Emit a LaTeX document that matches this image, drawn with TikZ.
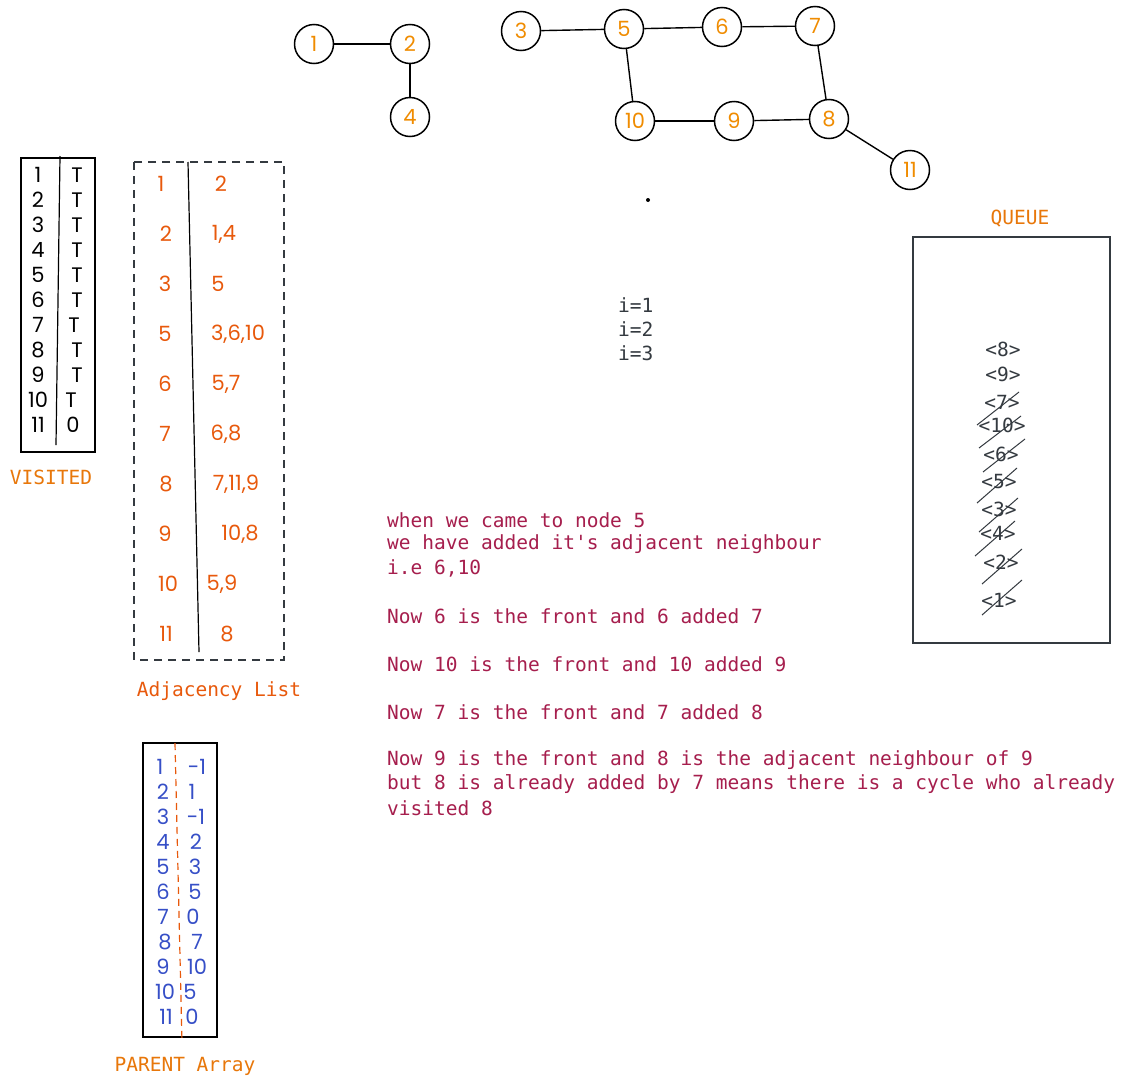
\documentclass[tikz,border=0pt]{standalone}
\usepackage{fontspec}
\setmonofont{DejaVu Sans Mono}
\newfontfamily\hand{Poppins}
\definecolor{nodeor}{HTML}{F08C00}
\definecolor{adjor}{HTML}{E8590C}
\definecolor{lblor}{HTML}{E8770A}
\definecolor{txtred}{HTML}{A61E4D}
\definecolor{parblue}{HTML}{364FC7}
\definecolor{qgray}{HTML}{343A40}
\begin{document}
\begin{tikzpicture}[x=1pt,y=-1pt,
  gnode/.style={draw=black,line width=1.5pt,circle,minimum size=39pt,inner sep=0pt,text=nodeor,font=\hand\fontsize{21}{21}\selectfont},
  gedge/.style={draw=black,line width=1.4pt},
  vnum/.style={inner sep=0pt,text=black,font=\hand\fontsize{21}{21}\selectfont},
  anum/.style={inner sep=0pt,text=adjor,font=\hand\fontsize{21}{21}\selectfont},
  pnum/.style={inner sep=0pt,text=parblue,font=\hand\fontsize{21}{21}\selectfont},
  mono/.style={inner sep=0pt,font=\ttfamily\fontsize{19.5}{24}\selectfont},
  qitem/.style={mono,text=qgray},
  strike/.style={draw=qgray,line width=1pt},
  tbl/.style={draw=black,line width=1.4pt}
]
\useasboundingbox (0,0) rectangle (1123,1087);
\fill[white] (0,0) rectangle (1123,1087);

% ---- graph ----
\node[gnode] (g1) at (314,44) {1};
\node[gnode] (g2) at (410,44) {2};
\node[gnode] (g4) at (410,117) {4};
\node[gnode] (g3) at (521,31) {3};
\node[gnode] (g5) at (624,29) {5};
\node[gnode] (g6) at (722,27) {6};
\node[gnode] (g7) at (815,26) {7};
\node[gnode] (g10) at (635,121) {10};
\node[gnode] (g9) at (734,121) {9};
\node[gnode] (g8) at (829,119) {8};
\node[gnode] (g11) at (910,170) {11};
\draw[gedge] (g1) -- (g2);
\draw[gedge] (g2) -- (g4);
\draw[gedge] (g3) -- (g5);
\draw[gedge] (g5) -- (g6);
\draw[gedge] (g6) -- (g7);
\draw[gedge] (g5) -- (g10);
\draw[gedge] (g10) -- (g9);
\draw[gedge] (g9) -- (g8);
\draw[gedge] (g7) -- (g8);
\draw[gedge] (g8) -- (g11);
\fill[black] (648,200) circle (2pt);

% ---- visited ----
\draw[tbl] (21,158) rectangle (95,452);
\draw[black,line width=1.2pt] (60,156) -- (56,445);
\foreach \n/\v/\xr [count=\i] in {1/T/77,2/T/77,3/T/77,4/T/77,5/T/77,6/T/77,7/T/74,8/T/77,9/T/77,10/T/71,11/0/73}{
  \node[vnum] (vl\i) at (38,150+25*\i) {\n};
  \node[vnum] (vr\i) at (\xr,150+25*\i) {\v};
}
\node[mono,text=lblor] (vlabel) at (51,477) {VISITED};

% ---- adjacency list ----
\draw[draw=qgray,line width=1.4pt,dash pattern=on 8pt off 6pt] (134,162) rectangle (284,660);
\draw[black,line width=1.2pt] (188,162) -- (199,652);
\foreach \n/\v/\xr/\xl [count=\i] in {1/2/221/161,2/{1,4}/224/166,3/5/218/165,5/{3,6,10}/238/165,6/{5,7}/226/165,7/{6,8}/226/165,8/{7,11,9}/236/166,9/{10,8}/240/165,10/{5,9}/222/168,11/8/227/166}{
  \node[anum] (al\i) at (\xl,134+50*\i) {\n};
  \node[anum] (ar\i) at (\xr,134+50*\i) {\v};
}
\node[mono,text=adjor] (alabel) at (219,691) {Adjacency List};

% ---- parent array ----
\draw[tbl] (143,743) rectangle (217,1037);
\draw[draw=adjor,line width=1.2pt,dash pattern=on 7pt off 5pt] (175,743) -- (182,1042);
\foreach \n/\v/\xr/\xl [count=\i] in {1/-1/197/160,2/1/192/163,3/-1/196/163,4/2/196/163,5/3/195/163,6/5/195/163,7/0/193/163,8/7/197/165,9/10/197/163,10/5/190/165,11/0/192/166}{
  \node[pnum] (pl\i) at (\xl,742+25*\i) {\n};
  \node[pnum] (pr\i) at (\xr,742+25*\i) {\v};
}
\node[mono,text=lblor] (plabel) at (185,1066) {PARENT Array};

% ---- queue ----
\node[mono,text=lblor] (qlabel) at (1020,219) {QUEUE};
\draw[draw=qgray,line width=1.3pt] (913,237) rectangle (1110,643);
\node[qitem] (q8) at (1003,349) {<8>};
\node[qitem] (q9) at (1003,374) {<9>};
\node[qitem] (q7) at (1002,402) {<7>};
\node[qitem] (q10) at (1002,425) {<10>};
\node[qitem] (q6) at (1001,454) {<6>};
\node[qitem] (q5) at (999,482) {<5>};
\node[qitem] (q3) at (999,509) {<3>};
\node[qitem] (q4) at (998,533) {<4>};
\node[qitem] (q2) at (1001,562) {<2>};
\node[qitem] (q1) at (999,600) {<1>};
\draw[strike] (977,425) -- (1019,392);
\draw[strike] (979,448) -- (1021,416);
\draw[strike] (983,472) -- (1025,439);
\draw[strike] (977,503) -- (1017,468);
\draw[strike] (979,532) -- (1018,498);
\draw[strike] (975,556) -- (1015,521);
\draw[strike] (982,584) -- (1022,549);
\draw[strike] (982,615) -- (1022,580);

% ---- i= ----
\node[mono,text=qgray,anchor=west] (i1) at (618,305) {i=1};
\node[mono,text=qgray,anchor=west] (i2) at (618,329) {i=2};
\node[mono,text=qgray,anchor=west] (i3) at (618,353) {i=3};

% ---- explanation ----
\foreach \t/\yy [count=\k] in {
  {when we came to node 5}/520,
  {we have added it's adjacent neighbour}/544,
  {i.e 6,10}/568,
  {Now 6 is the front and 6 added 7}/616,
  {Now 10 is the front and 10 added 9}/664,
  {Now 7 is the front and 7 added 8}/712,
  {Now 9 is the front and 8 is the adjacent neighbour of 9}/760,
  {but 8 is already added by 7 means there is a cycle who already}/784,
  {visited 8}/808}{
  \node[mono,text=txtred,anchor=west] (t\k) at (387,\yy) {\t};
}
\end{tikzpicture}
\end{document}
